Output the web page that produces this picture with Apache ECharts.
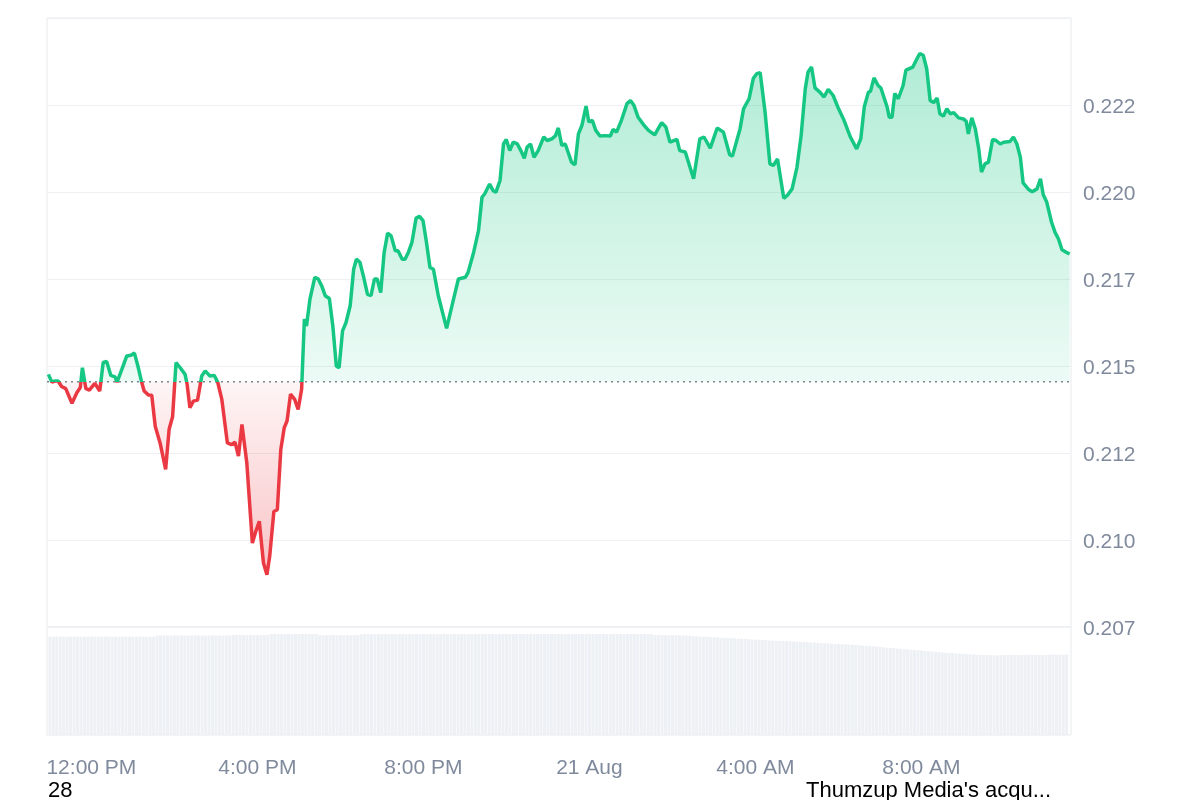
<!DOCTYPE html>
<html><head><meta charset="utf-8">
<script src="https://cdn.jsdelivr.net/npm/echarts@6/dist/echarts.min.js"></script>
<style>html,body{margin:0;padding:0;background:#fff}#c{width:1200px;height:800px}</style>
</head><body><div id="c"></div>
<script>
// ---- data ----
const seriesStart = '2025-08-20 11:00';
const axisStart = '2025-08-20 10:58';
const axisEnd = '2025-08-21 11:34';
const baselinePrice = 0.214546;
// minutes after seriesStart
const priceMinutes = [
0,5,10,14,19,25,34,41,46,49,54,59,67,74,79,84,90,96,99,106,113,119,124,129,134,138,144,149,154,161,
169,174,179,184,190,197,200,204,209,215,221,226,233,239,244,250,258,264,269,274,279,286,294,299,304,310,315,319,325,330,
335,340,344,349,355,360,365,
369,372,377,384,389,394,399,405,410,415,419,424,429,435,440,444,449,454,460,465,470,474,479,484,489,494,500,504,510,514,
519,524,530,535,540,545,550,555,562,574,584,591,601,605,613,620,625,629,636,641,645,651,
656,660,665,670,676,681,686,690,695,700,706,714,719,726,731,735,740,745,749,754,759,764,769,775,779,784,789,795,802,810,
814,819,826,834,839,844,850,858,865,874,879,884,890,896,906,910,
918,930,939,945,954,964,973,982,986,997,1002,1010,1016,1021,1026,1033,1040,1045,1051,1060,1065,1072,1079,1085,1091,1095,1100,1105,1112,1118,
1124,1131,1139,1146,1156,1165,1171,1176,1182,1185,1190,1196,1200,1209,1212,1216,1220,1225,1232,1236,1246,1252,1256,1261,1266,1271,1276,1281,1285,1290,
1295,1300,1305,1312,1319,1323,1326,1331,1336,1341,1345,1350,1355,1361,1366,1372,1377,1386,1391,1396,1401,1405,1413,1418,1425,1430,1434,1439,1446,1451,
1456,1461,1466,1472
];
const prices = [
0.21476,0.21454,0.21457,0.21457,0.21441,0.21435,0.21393,0.21423,0.21438,0.21495,0.21435,0.21431,0.21450,0.21428,0.21510,0.21513,0.21473,0.21469,0.21454,0.21491,
0.21529,0.21531,0.21537,0.21500,0.21457,0.21428,0.21417,0.21416,0.21327,0.21279,0.21203,0.21318,0.21354,0.21510,0.21495,0.21476,0.21447,0.21380,0.21399,0.21402,
0.21471,0.21486,0.21471,0.21473,0.21454,0.21404,0.21279,0.21274,0.21281,0.21241,0.21332,0.21222,0.20991,0.21025,0.21054,0.20934,0.20900,0.20953,0.21082,0.21087,
0.21260,0.21323,0.21342,0.21419,0.21404,0.21375,0.21433,
0.21635,0.21615,0.21692,0.21755,0.21750,0.21730,0.21702,0.21694,0.21615,0.21500,0.21495,0.21601,0.21625,0.21673,0.21778,0.21807,0.21798,0.21759,0.21706,0.21702,
0.21750,0.21750,0.21711,0.21827,0.21882,0.21874,0.21831,0.21831,0.21807,0.21807,0.21827,0.21855,0.21925,0.21930,0.21918,0.21855,0.21783,0.21778,0.21702,0.21608,
0.21692,0.21750,0.21755,0.21769,0.21827,0.21889,0.21985,0.21995,0.22023,0.22004,0.21999,0.22033,
0.22138,0.22151,0.22119,0.22143,0.22138,0.22119,0.22097,0.22129,0.22138,0.22100,0.22119,0.22158,0.22148,0.22153,0.22162,0.22184,0.22134,0.22138,0.22115,0.22086,
0.22078,0.22167,0.22191,0.22247,0.22201,0.22206,0.22177,0.22161,0.22162,0.22161,0.22180,0.22172,0.22206,0.22254,0.22263,0.22249,0.22215,0.22193,0.22177,0.22164,
0.22182,0.22199,0.22187,0.22143,0.22151,0.22119,
0.22115,0.22038,0.22153,0.22158,0.22126,0.22184,0.22172,0.22107,0.22103,0.22182,0.22239,0.22268,0.22326,0.22340,0.22343,0.22230,0.22081,0.22076,0.22095,0.21982,
0.21990,0.22009,0.22071,0.22162,0.22297,0.22345,0.22359,0.22299,0.22287,0.22273,0.22295,0.22278,0.22239,0.22210,0.22158,0.22124,0.22153,0.22244,0.22287,0.22289,
0.22328,0.22306,0.22299,0.22244,0.22215,0.22215,0.22283,0.22268,0.22306,0.22350,0.22359,0.22383,0.22398,0.22393,0.22354,0.22263,0.22257,0.22270,0.22225,0.22218,
0.22239,0.22225,0.22228,0.22213,0.22210,0.22203,0.22167,0.22213,0.22182,0.22124,0.22057,0.22081,0.22086,0.22151,0.22148,0.22138,0.22143,0.22145,0.22158,0.22138,
0.22100,0.22026,0.22007,0.22001,0.22009,0.22038,0.21992,0.21971,0.21913,0.21884,0.21865,0.21834,0.21828,0.21822
];
// volume bars, one per 5 minutes from seriesStart
const volumeStepMinutes = 5;
const volumes = [
9.82,9.83,9.84,9.83,9.82,9.83,9.83,9.84,9.83,9.82,9.83,9.84,9.83,9.83,9.82,9.83,9.84,9.83,9.82,9.83,9.83,9.84,9.83,9.82,9.83,9.83,9.84,9.83,9.82,9.83,9.84,
9.94,9.95,9.96,9.95,9.94,9.95,9.95,9.96,9.95,9.94,9.95,9.96,9.95,9.95,9.94,9.95,9.96,9.95,9.95,9.94,9.95,9.96,
10.00,10.01,10.00,9.99,10.00,10.01,10.02,10.00,9.99,10.00,10.01,
10.10,10.11,10.10,10.09,10.10,10.12,10.11,10.10,10.09,10.10,10.11,10.10,10.09,10.10,
9.98,9.97,9.98,9.99,9.98,9.97,9.98,9.99,9.98,9.97,9.98,9.99,
10.07,10.08,10.09,10.08,10.07,10.08,10.09,10.08,10.07,10.08,10.08,10.09,10.08,10.07,10.08,10.09,10.08,10.07,10.08,10.08,
10.09,10.08,10.07,10.08,10.09,10.08,10.07,10.08,10.08,10.09,10.08,10.07,10.08,10.09,10.08,
10.10,10.11,10.10,10.09,10.10,10.11,10.12,10.10,10.09,10.10,10.11,10.10,10.09,10.10,10.11,10.12,10.11,10.10,10.09,10.10,
10.11,10.10,10.10,10.09,10.10,10.11,10.10,10.09,10.10,10.11,10.12,10.11,10.10,10.09,10.10,10.11,10.10,10.09,10.10,10.11,
10.10,10.09,10.10,10.11,10.10,10.09,10.10,10.11,10.10,10.09,
9.98,9.99,9.98,9.97,9.98,9.99,9.98,9.97,9.96,9.95,9.93,9.90,
9.88,9.85,9.83,9.82,9.80,9.78,9.76,9.74,9.72,9.70,9.68,9.66,9.64,9.62,9.60,9.58,9.56,9.54,9.52,
9.50,9.48,9.46,9.45,9.43,9.42,9.40,9.38,9.37,9.35,9.33,9.32,9.30,9.28,
9.26,9.24,9.22,9.20,9.18,9.16,9.14,9.12,9.10,9.08,9.06,9.04,9.02,9.00,8.98,
8.95,8.92,8.89,8.86,8.83,8.80,8.77,8.74,8.71,8.68,8.65,8.62,8.59,8.56,8.53,8.50,8.47,8.44,8.41,8.38,
8.35,8.32,8.29,8.26,8.23,8.20,8.18,8.16,8.14,8.12,8.10,8.08,8.06,8.04,8.02,8.00,7.99,7.98,7.97,7.97,7.98,7.99,
8.00,8.01,8.00,7.99,8.00,8.02,8.03,8.02,8.01,8.00,7.99,8.00,8.02,8.04,8.05,8.03,8.02,8.05
];
const monthNames = ['Jan','Feb','Mar','Apr','May','Jun','Jul','Aug','Sep','Oct','Nov','Dec'];
const footerLeftText = '28';
const footerRightText = "Thumzup Media's acqu...";

// ---- build ----
function toTime(s){const [d,t]=s.split(' ');const [Y,M,D]=d.split('-').map(Number);const [h,m]=t.split(':').map(Number);return new Date(Y,M-1,D,h,m).getTime();}
const t0 = toTime(seriesStart);
const priceData = priceMinutes.map((m,i)=>[t0+m*60000, prices[i]]);
const baseData = [[toTime(axisStart), baselinePrice],[toTime(axisEnd), baselinePrice]];
const volData = volumes.map((v,i)=>[t0+i*volumeStepMinutes*60000, v]);
const pMax = Math.max(...prices), pMin = Math.min(...prices);
const split = (pMax - baselinePrice)/(pMax - pMin);
const GREEN = '#16c784', RED = '#ea3943';
const FONT = "'Liberation Sans', Arial, sans-serif";
const xMin = toTime(axisStart), xMax = toTime(axisEnd);

function timeLabel(v){
  const d = new Date(v); const h = d.getHours(), mi = d.getMinutes();
  if (h===0 && mi===0) return d.getDate()+' '+monthNames[d.getMonth()];
  const hh = h%12===0 ? 12 : h%12;
  return hh+':'+String(mi).padStart(2,'0')+' '+(h<12?'AM':'PM');
}

const chart = echarts.init(document.getElementById('c'), null, {renderer:'canvas'});
chart.setOption({
  animation:false,
  backgroundColor:'#ffffff',
  grid:[
    {left:47, right:129, top:18, height:609, show:true, borderColor:'#e8eaed', borderWidth:1},
    {left:47, right:129, top:627, height:108, show:true, borderColor:'#e8eaed', borderWidth:1}
  ],
  xAxis:[
    {type:'time', gridIndex:0, min:xMin, max:xMax, show:false, splitLine:{show:false}},
    {type:'time', gridIndex:1, min:xMin, max:xMax, splitNumber:6,
     minInterval:4*3600*1000, maxInterval:4*3600*1000,
     axisLine:{show:false}, axisTick:{show:false}, splitLine:{show:false},
     axisLabel:{color:'#808a9d', fontSize:21, fontFamily:FONT, margin:23, formatter:timeLabel, hideOverlap:false}}
  ],
  yAxis:[
    {type:'value', gridIndex:0, position:'right', min:0.2075, max:0.2250, interval:0.0025,
     axisLine:{show:false}, axisTick:{show:false},
     splitLine:{show:true, lineStyle:{color:'#eef0f3', width:1}},
     axisLabel:{color:'#808a9d', fontSize:21, fontFamily:FONT, margin:12, showMaxLabel:false,
       formatter:v=>'{v|'+(Math.floor(v*1000+1e-7)/1000).toFixed(3)+'}',
       rich:{v:{color:'#808a9d', fontSize:21, fontFamily:FONT, padding:[4,0,0,0]}}}},
    {type:'value', gridIndex:1, min:0, max:10.8, show:false, splitLine:{show:false}}
  ],
  series:[
    {type:'line', name:'price', xAxisIndex:0, yAxisIndex:0, data:priceData, showSymbol:false, symbol:'none', z:5,
     lineStyle:{width:3.5, color:new echarts.graphic.LinearGradient(0,0,0,1,[
         {offset:0, color:GREEN},{offset:split, color:GREEN},
         {offset:split, color:RED},{offset:1, color:RED}])},
     areaStyle:{origin:baselinePrice, opacity:1,
       color:new echarts.graphic.LinearGradient(0,0,0,1,[
         {offset:0, color:'rgba(22,199,132,0.34)'},
         {offset:split, color:'rgba(22,199,132,0.08)'},
         {offset:split, color:'rgba(234,57,67,0.05)'},
         {offset:1, color:'rgba(234,57,67,0.30)'}
       ])}
    },
    {type:'line', name:'open', xAxisIndex:0, yAxisIndex:0, data:baseData, showSymbol:false, symbol:'none', silent:true, z:4,
     lineStyle:{color:'#7d838e', type:[2,4], width:1.5}},
    {type:'bar', xAxisIndex:1, yAxisIndex:1, data:volData, barWidth:3,
     itemStyle:{color:'#edf0f4'}, silent:true}
  ],
  graphic:[
    {type:'text', left:48, top:780, style:{text:footerLeftText, fill:'#000', font:"22px 'Liberation Sans', Arial, sans-serif"}},
    {type:'text', left:806, top:780, style:{text:footerRightText, fill:'#000', font:"22px 'Liberation Sans', Arial, sans-serif"}}
  ]
});
</script>
</body></html>
